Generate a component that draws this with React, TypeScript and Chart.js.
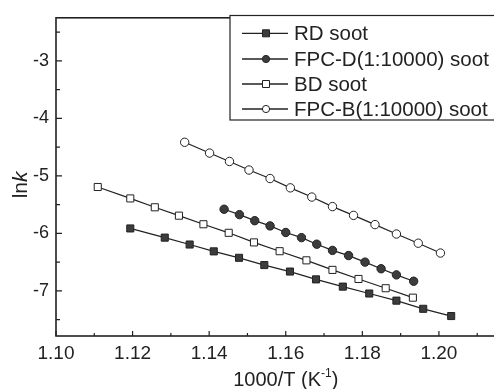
import React, { useEffect, useRef } from "react";
import { Chart, registerables } from "chart.js";

Chart.register(...registerables);

// ---- data ----
const rdX = [1.1194, 1.1284, 1.1349, 1.1412, 1.1478, 1.1544, 1.1611, 1.1679, 1.1749, 1.1818, 1.1889, 1.1959, 1.2032];
const rdY = [-5.914, -6.074, -6.194, -6.313, -6.425, -6.551, -6.664, -6.8, -6.926, -7.046, -7.17, -7.312, -7.438];

const fpcDX = [1.1439, 1.1479, 1.1519, 1.1559, 1.16, 1.1641, 1.1681, 1.1722, 1.1764, 1.1807, 1.1849, 1.1889, 1.1934];
const fpcDY = [-5.58, -5.674, -5.779, -5.87, -5.984, -6.074, -6.188, -6.296, -6.386, -6.5, -6.615, -6.722, -6.832];

const bdX = [1.1109, 1.1194, 1.1258, 1.1321, 1.1385, 1.1451, 1.1517, 1.1584, 1.1654, 1.1722, 1.179, 1.1861, 1.1932];
const bdY = [-5.193, -5.392, -5.546, -5.692, -5.841, -5.99, -6.157, -6.31, -6.469, -6.635, -6.793, -6.954, -7.118];

const fpcBX = [1.1336, 1.1401, 1.1453, 1.1504, 1.1559, 1.1612, 1.1668, 1.1722, 1.1777, 1.1833, 1.1889, 1.1946, 1.2004];
const fpcBY = [-4.415, -4.603, -4.749, -4.898, -5.046, -5.208, -5.368, -5.534, -5.687, -5.847, -6.011, -6.171, -6.342];

const seriesNames = ["RD soot", "FPC-D(1:10000) soot", "BD soot", "FPC-B(1:10000) soot"];

const xTicks = [1.1, 1.12, 1.14, 1.16, 1.18, 1.2, 1.22];
const yTicks = [-7, -6, -5, -4, -3];
const xTitleMain = "1000/T (K";
const xTitleSup = "-1";
const yTitleA = "ln";
const yTitleB = "k";

const FONT = "'Liberation Sans', Arial, Helvetica, sans-serif";
const INK = "#222";
const FILL = "#3c3c3c";

const toPts = (xs: number[], ys: number[]) => xs.map((x, i) => ({ x, y: ys[i] }));

const styles = [
  { pointStyle: "rect", radius: 5, fill: FILL },
  { pointStyle: "circle", radius: 4.2, fill: FILL },
  { pointStyle: "rect", radius: 5, fill: "#fff" },
  { pointStyle: "circle", radius: 4.2, fill: "#fff" },
];

const decorPlugin = {
  id: "decor",
  afterDraw(chart: any) {
    const { ctx, chartArea: a, scales } = chart;
    const xs = scales.x;
    const ys = scales.y;
    ctx.save();
    // frame
    ctx.strokeStyle = INK;
    ctx.lineWidth = 1.6;
    ctx.strokeRect(a.left, a.top, a.right - a.left, a.bottom - a.top);

    // inward ticks
    ctx.lineWidth = 1.2;
    ctx.beginPath();
    for (let i = 0; i < xTicks.length; i++) {
      const px = xs.getPixelForValue(xTicks[i]);
      ctx.moveTo(px, a.bottom);
      ctx.lineTo(px, a.bottom - 5);
      if (i < xTicks.length - 1) {
        const mx = xs.getPixelForValue((xTicks[i] + xTicks[i + 1]) / 2);
        ctx.moveTo(mx, a.bottom);
        ctx.lineTo(mx, a.bottom - 3);
      }
    }
    const yMinor = [-7.5, -6.5, -5.5, -4.5, -3.5, -2.5];
    for (const v of yTicks) {
      const py = ys.getPixelForValue(v);
      ctx.moveTo(a.left, py);
      ctx.lineTo(a.left + 6, py);
    }
    for (const v of yMinor) {
      const py = ys.getPixelForValue(v);
      ctx.moveTo(a.left, py);
      ctx.lineTo(a.left + 4, py);
    }
    ctx.stroke();

    // x title
    ctx.fillStyle = INK;
    ctx.textBaseline = "alphabetic";
    ctx.textAlign = "left";
    ctx.font = `20px ${FONT}`;
    const wMain = ctx.measureText(xTitleMain).width;
    ctx.font = `12px ${FONT}`;
    const wSup = ctx.measureText(xTitleSup).width;
    ctx.font = `20px ${FONT}`;
    const wClose = ctx.measureText(")").width;
    const total = wMain + wSup + wClose;
    const cx = (a.left + a.right) / 2;
    let tx = cx - total / 2;
    const base = 386;
    ctx.fillText(xTitleMain, tx, base);
    tx += wMain;
    ctx.font = `12px ${FONT}`;
    ctx.fillText(xTitleSup, tx, base - 9);
    tx += wSup;
    ctx.font = `20px ${FONT}`;
    ctx.fillText(")", tx, base);

    // y title (rotated)
    ctx.save();
    ctx.translate(27, (a.top + a.bottom) / 2 + 8);
    ctx.rotate(-Math.PI / 2);
    ctx.font = `21px ${FONT}`;
    const wA = ctx.measureText(yTitleA).width;
    ctx.font = `italic 21px ${FONT}`;
    const wB = ctx.measureText(yTitleB).width;
    let yx = -(wA + wB) / 2;
    ctx.font = `21px ${FONT}`;
    ctx.fillText(yTitleA, yx, 0);
    yx += wA;
    ctx.font = `italic 21px ${FONT}`;
    ctx.fillText(yTitleB, yx, 0);
    ctx.restore();

    // legend
    const bx = 230;
    const by = 15.5;
    ctx.fillStyle = "#fff";
    ctx.fillRect(bx, by, a.right - 6 - bx, 104.5);
    ctx.strokeStyle = INK;
    ctx.lineWidth = 1.2;
    ctx.strokeRect(bx, by, a.right - 6 - bx, 104.5);
    const rows = [33.3, 59, 84, 109];
    for (let i = 0; i < seriesNames.length; i++) {
      const ry = rows[i];
      ctx.strokeStyle = INK;
      ctx.lineWidth = 1.3;
      ctx.beginPath();
      ctx.moveTo(242, ry);
      ctx.lineTo(288, ry);
      ctx.stroke();
      const st = styles[i];
      ctx.fillStyle = st.fill;
      ctx.lineWidth = 1;
      ctx.beginPath();
      if (st.pointStyle === "rect") {
        ctx.rect(262.5, ry - 3.5, 7, 7);
      } else {
        ctx.arc(266, ry, 3.6, 0, Math.PI * 2);
      }
      ctx.fill();
      ctx.stroke();
      ctx.fillStyle = INK;
      ctx.font = `20.5px ${FONT}`;
      ctx.textBaseline = "middle";
      ctx.fillText(seriesNames[i], 294, ry + 1);
    }
    ctx.restore();
  },
};

export default function App() {
  const ref = useRef<HTMLCanvasElement | null>(null);

  useEffect(() => {
    if (!ref.current) return;
    const datasets = [
      toPts(rdX, rdY),
      toPts(fpcDX, fpcDY),
      toPts(bdX, bdY),
      toPts(fpcBX, fpcBY),
    ].map((data, i) => ({
      label: seriesNames[i],
      data,
      showLine: true,
      borderColor: INK,
      borderWidth: 1.2,
      pointStyle: styles[i].pointStyle as any,
      pointRadius: styles[i].radius,
      pointBackgroundColor: styles[i].fill,
      pointBorderColor: INK,
      pointBorderWidth: 1,
    }));

    const chart = new Chart(ref.current, {
      type: "scatter",
      data: { datasets },
      options: {
        responsive: false,
        animation: false,
        devicePixelRatio: 1,
        layout: { padding: { top: 12, right: 3, left: 0, bottom: 0 } },
        plugins: { legend: { display: false }, tooltip: { enabled: false } },
        scales: {
          x: {
            type: "linear",
            position: "bottom",
            min: 1.1,
            max: 1.22,
            grid: { display: false, drawTicks: false },
            border: { display: false },
            ticks: {
              color: INK,
              font: { family: FONT, size: 19 },
              padding: 6,
              autoSkip: false,
              maxRotation: 0,
              callback: (v: any) => Number(v).toFixed(2),
            },
            afterBuildTicks: (s: any) => {
              s.ticks = xTicks.map((value) => ({ value }));
            },
            afterFit: (s: any) => {
              s.height = 53;
            },
          },
          y: {
            type: "linear",
            min: -7.785,
            max: -2.25,
            grid: { display: false, drawTicks: false },
            border: { display: false },
            ticks: {
              color: INK,
              font: { family: FONT, size: 18 },
              padding: 7,
              autoSkip: false,
              callback: (v: any) => String(Math.round(Number(v))),
            },
            afterBuildTicks: (s: any) => {
              s.ticks = yTicks.map((value) => ({ value }));
            },
            afterFit: (s: any) => {
              s.width = 56;
            },
          },
        },
      },
      plugins: [decorPlugin],
    });
    return () => chart.destroy();
  }, []);

  return (
    <div
      style={{
        position: "fixed",
        left: 0,
        top: 0,
        width: 494,
        height: 389,
        overflow: "hidden",
        background: "#fff",
      }}
    >
      <canvas ref={ref} width={540} height={389} style={{ display: "block", width: 540, height: 389 }} />
    </div>
  );
}
